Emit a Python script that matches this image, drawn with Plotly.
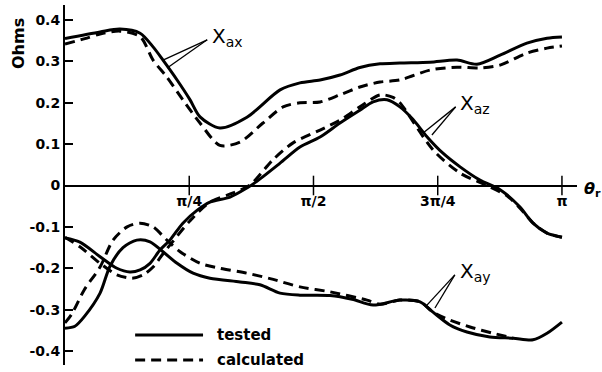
import plotly.graph_objects as go

# rotor angle in degrees (0 .. 180 = 0 .. pi)
ax_tested_x = [0, 12.7, 19.9, 27.2, 31.9, 35.5, 40.6, 45.3, 48.9, 56.1, 65.9, 77.9, 85.1, 92.4,
               99.6, 106.8, 114.1, 121.3, 132.2, 142.0, 149.2, 157.6, 167.3, 174.6, 180]
ax_tested_y = [0.355, 0.371, 0.378, 0.368, 0.335, 0.303, 0.255, 0.207, 0.166, 0.139, 0.165, 0.231,
               0.248, 0.255, 0.267, 0.285, 0.294, 0.296, 0.298, 0.303, 0.293, 0.315, 0.344, 0.356, 0.359]
ax_calc_x = [0, 7.2, 12.7, 19.9, 27.2, 31.9, 36.9, 42.7, 48.9, 56.1, 63.4, 71.7, 79.0, 85.1, 92.4,
             99.6, 106.8, 114.1, 121.3, 132.2, 142.0, 150.3, 157.6, 167.3, 174.6, 180]
ax_calc_y = [0.342, 0.355, 0.366, 0.373, 0.36, 0.303, 0.262, 0.207, 0.151, 0.097, 0.105, 0.151, 0.19,
             0.2, 0.202, 0.219, 0.238, 0.25, 0.255, 0.279, 0.286, 0.284, 0.291, 0.32, 0.332, 0.337]

az_tested_x = [0, 5.4, 12.7, 18.8, 23.5, 27.2, 30.8, 34.4, 38.0, 42.7, 47.8, 52.5, 59.8, 65.9, 69.5,
               77.9, 85.1, 92.4, 99.6, 106.8, 111.6, 116.6, 121.3, 126.0, 131.1, 136.9, 143.1,
               150.3, 157.6, 164.8, 169.5, 174.6, 180]
az_tested_y = [-0.127, -0.137, -0.172, -0.2, -0.209, -0.204, -0.188, -0.156, -0.132, -0.091, -0.06,
               -0.04, -0.028, -0.006, 0.01, 0.054, 0.093, 0.117, 0.151, 0.182, 0.202, 0.207, 0.19,
               0.16, 0.118, 0.078, 0.045, 0.013, -0.01, -0.052, -0.091, -0.115, -0.125]
az_calc_x = [0, 5.4, 12.7, 18.8, 24.3, 28.3, 31.9, 35.5, 39.1, 45.3, 52.5, 60.9, 67.0, 75.3, 82.6,
             92.4, 99.6, 106.8, 114.1, 118.8, 121.3, 133.3, 143.1, 152.8, 160.1, 164.8, 169.5,
             174.6, 180]
az_calc_y = [-0.125, -0.148, -0.188, -0.216, -0.224, -0.216, -0.197, -0.165, -0.135, -0.085, -0.04,
             -0.018, 0.001, 0.062, 0.103, 0.134, 0.158, 0.19, 0.219, 0.213, 0.2, 0.086, 0.03, 0.0,
             -0.025, -0.055, -0.09, -0.115, -0.125]

ay_tested_x = [0, 3.6, 7.2, 12.7, 16.3, 21.0, 26.0, 30.8, 35.5, 40.6, 46.4, 52.5, 63.4, 70.6, 77.9,
               85.1, 96.0, 104.0, 111.6, 121.3, 128.6, 133.3, 139.4, 145.6, 153.9, 162.3, 169.5,
               174.6, 180]
ay_tested_y = [-0.345, -0.34, -0.315, -0.26, -0.195, -0.15, -0.132, -0.136, -0.16, -0.188, -0.212,
               -0.224, -0.233, -0.24, -0.26, -0.265, -0.266, -0.275, -0.289, -0.277, -0.281, -0.306,
               -0.337, -0.354, -0.366, -0.369, -0.373, -0.357, -0.33]
ay_calc_x = [0, 2.5, 6.9, 12.7, 17.4, 22.5, 27.2, 31.9, 36.9, 41.7, 48.9, 56.1, 65.9, 74.3, 85.1,
             96.0, 109.4, 114.1, 121.3, 128.6, 133.3, 139.4, 146.7, 155.0, 162.3]
ay_calc_y = [-0.332, -0.31, -0.253, -0.197, -0.132, -0.1, -0.091, -0.1, -0.132, -0.16, -0.188,
             -0.2, -0.212, -0.225, -0.245, -0.257, -0.277, -0.287, -0.277, -0.281, -0.306, -0.325,
             -0.342, -0.357, -0.369]

y_ticks = [0.4, 0.3, 0.2, 0.1, 0, -0.1, -0.2, -0.3, -0.4]
y_tick_text = ["0.4", "0.3", "0.2", "0.1", "0", "-0.1", "-0.2", "-0.3", "-0.4"]
x_ticks = [45, 90, 135, 180]
x_tick_text = ["\u03c0/4", "\u03c0/2", "3\u03c0/4", "\u03c0"]

legend_x = [25.4, 50.0]
legend_tested_y = -0.361
legend_calc_y = -0.422

FONT = "DejaVu Sans"
INK = "black"
LW = 3
DASH = "10px,6px"

fig = go.Figure()


def curve(x, y, dashed):
    fig.add_trace(go.Scatter(
        x=x, y=y, mode="lines", showlegend=False, hoverinfo="skip",
        line=dict(color=INK, width=LW, shape="spline", smoothing=0.8,
                  dash=DASH if dashed else "solid")))


curve(ax_tested_x, ax_tested_y, False)
curve(ax_calc_x, ax_calc_y, True)
curve(az_tested_x, az_tested_y, False)
curve(az_calc_x, az_calc_y, True)
curve(ay_tested_x, ay_tested_y, False)
curve(ay_calc_x, ay_calc_y, True)

# tick marks crossing the theta axis
fig.add_trace(go.Scatter(
    x=x_ticks, y=[0] * len(x_ticks), mode="markers", showlegend=False, hoverinfo="skip",
    marker=dict(symbol="line-ns", size=14, line=dict(color=INK, width=1.5))))

# key
fig.add_trace(go.Scatter(x=legend_x, y=[legend_tested_y] * 2, mode="lines", showlegend=False,
                         hoverinfo="skip", line=dict(color=INK, width=LW)))
fig.add_trace(go.Scatter(x=legend_x, y=[legend_calc_y] * 2, mode="lines", showlegend=False,
                         hoverinfo="skip", line=dict(color=INK, width=LW, dash=DASH)))

bold = dict(family=FONT, size=14, color=INK, weight="bold")
fig.add_annotation(x=54.3, y=legend_tested_y, text="tested", showarrow=False,
                   xanchor="left", yanchor="middle", font=dict(bold, size=15))
fig.add_annotation(x=54.3, y=legend_calc_y, text="calculated", showarrow=False,
                   xanchor="left", yanchor="middle", font=dict(bold, size=15))

# curve labels with pointer lines
labels = [
    ("X<sub>ax</sub>", 51.5, 0.352, [(35.5, 0.303), (37.0, 0.284)]),
    ("X<sub>az</sub>", 141.5, 0.19, [(129.7, 0.127), (132.9, 0.122)]),
    ("X<sub>ay</sub>", 141.2, -0.216, [(131.1, -0.289), (134.0, -0.296)]),
]
for text, lx, ly, tips in labels:
    for tx, ty in tips:
        fig.add_shape(type="line", x0=lx, y0=ly, x1=tx, y1=ty, xref="x", yref="y",
                      line=dict(color=INK, width=1.3))
    fig.add_annotation(x=lx + 1.0, y=ly, text=text, showarrow=False, xanchor="left",
                       yanchor="middle", yshift=3, font=dict(family=FONT, size=20, color=INK))

fig.add_annotation(x=582 / 602, y=1 - 189 / 372, xref="paper", yref="paper",
                   text="<i>\u03b8</i><sub>r</sub>", showarrow=False, xanchor="left",
                   yanchor="middle", font=dict(family=FONT, size=16, color=INK, weight="bold"))
fig.add_annotation(x=18 / 602, y=1 - 44 / 372, xref="paper", yref="paper", text="Ohms",
                   textangle=-90, showarrow=False, xanchor="center", yanchor="middle",
                   font=dict(bold, size=16))

fig.update_layout(
    width=602, height=372, margin=dict(l=0, r=0, t=0, b=0),
    paper_bgcolor="white", plot_bgcolor="white",
    xaxis=dict(domain=[65 / 602, 577 / 602], range=[0, 185.45], showgrid=False, zeroline=False,
               showline=True, linecolor=INK, linewidth=2, anchor="free", position=0.5013,
               tickvals=x_ticks, ticktext=x_tick_text, ticks="outside", ticklen=3,
               tickcolor="rgba(0,0,0,0)", tickfont=bold),
    yaxis=dict(domain=[7 / 372, 367 / 372], range=[-0.4338, 0.4362], showgrid=False,
               zeroline=False, showline=True, linecolor=INK, linewidth=2,
               tickvals=y_ticks, ticktext=y_tick_text, ticks="inside", ticklen=8, tickwidth=2,
               tickcolor=INK, tickfont=bold),
)

fig.write_html("out.html")
